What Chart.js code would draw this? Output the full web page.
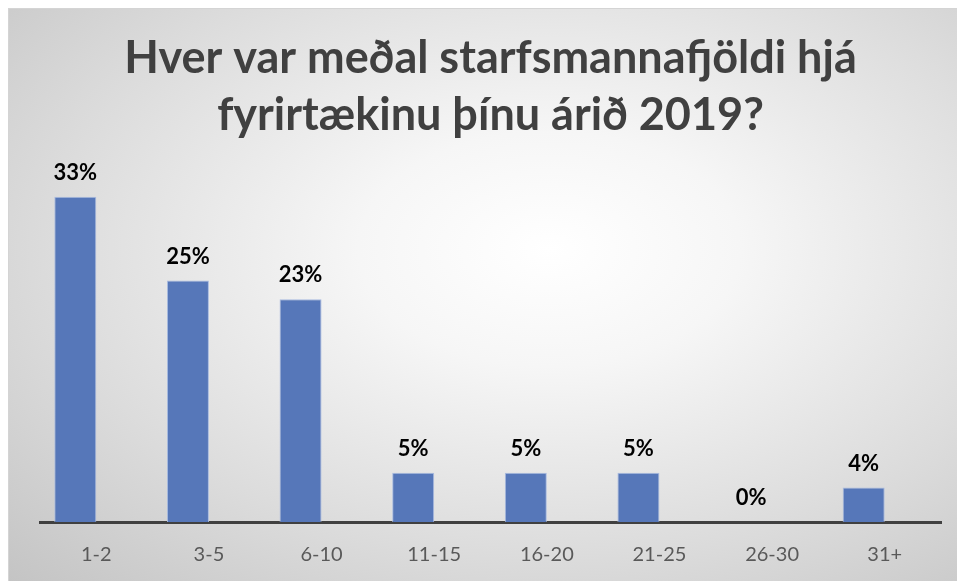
<!DOCTYPE html>
<html>
<head>
  <script src="https://cdn.jsdelivr.net/npm/chart.js@4.4.0/dist/chart.umd.min.js"></script>
  <style>
    body { margin: 0; background: #fff; }
    #wrap {
      position: absolute; left: 8px; top: 8px; width: 949px; height: 573px;
      background: radial-gradient(ellipse farthest-corner at 57% 42%, #ffffff 0%, #f6f6f6 25%, #dcdcdc 65%, #c4c4c4 100%);
      border-top: 1px solid #d4d4d4; border-left: 1px solid #d4d4d4;
      box-sizing: border-box;
    }
  </style>
</head>
<body>
<div id="wrap"><canvas id="sizeChart" width="948" height="572"></canvas></div>

<script>
var categories = ["1-2", "3-5", "6-10", "11-15", "16-20", "21-25", "26-30", "31+"];
var shares = [33, 24.5, 22.6, 5, 5, 5, 0, 3.5]; // percent of companies
var emptySeries = [null, null, null, null, null, null, null, null]; // second series slot, no values
var titleLines = ["Hver var meðal starfsmannafjöldi hjá", "fyrirtækinu þínu árið 2019?"];

// percent labels above each bar
var valueLabels = {
  id: "valueLabels",
  afterDatasetsDraw: function(chart) {
    var ctx = chart.ctx;
    var meta = chart.getDatasetMeta(0);
    ctx.save();
    ctx.font = "bold 22px Lato";
    ctx.fillStyle = "#000";
    ctx.textAlign = "center";
    ctx.textBaseline = "middle";
    meta.data.forEach(function(bar, i) {
      ctx.fillText(Math.round(shares[i]) + "%", bar.x, bar.y - 24);
    });
    ctx.restore();
  }
};

var ctx = document.getElementById("sizeChart").getContext("2d");
var sizeChart = new Chart(ctx, {
  type: "bar",
  data: {
    labels: categories,
    datasets: [{
      data: shares,
      backgroundColor: "#5677b9",
      borderColor: "#a9bbe0",
      borderWidth: 1,
      categoryPercentage: 0.746,
      barPercentage: 1
    }, {
      data: emptySeries,
      backgroundColor: "#ed7d31",
      categoryPercentage: 0.746,
      barPercentage: 1
    }]
  },
  options: {
    responsive: false,
    animation: false,
    layout: { padding: { left: 31, right: 16, top: 0, bottom: 0 } },
    plugins: {
      legend: { display: false },
      tooltip: { enabled: false },
      title: {
        display: true,
        text: titleLines,
        color: "#404040",
        font: { family: "Lato", size: 45, weight: "bold", lineHeight: 1.267 },
        padding: { top: 21, bottom: 33 }
      }
    },
    scales: {
      x: {
        grid: { display: false, drawTicks: false },
        border: { display: true, color: "#404040", width: 3 },
        ticks: { color: "#595959", font: { family: "Lato", size: 20 }, padding: 21 },
        afterFit: function(scale) { scale.height = 59; }
      },
      y: { display: false, min: 0, max: 35 }
    }
  },
  plugins: [valueLabels]
});
</script>
</body>
</html>
